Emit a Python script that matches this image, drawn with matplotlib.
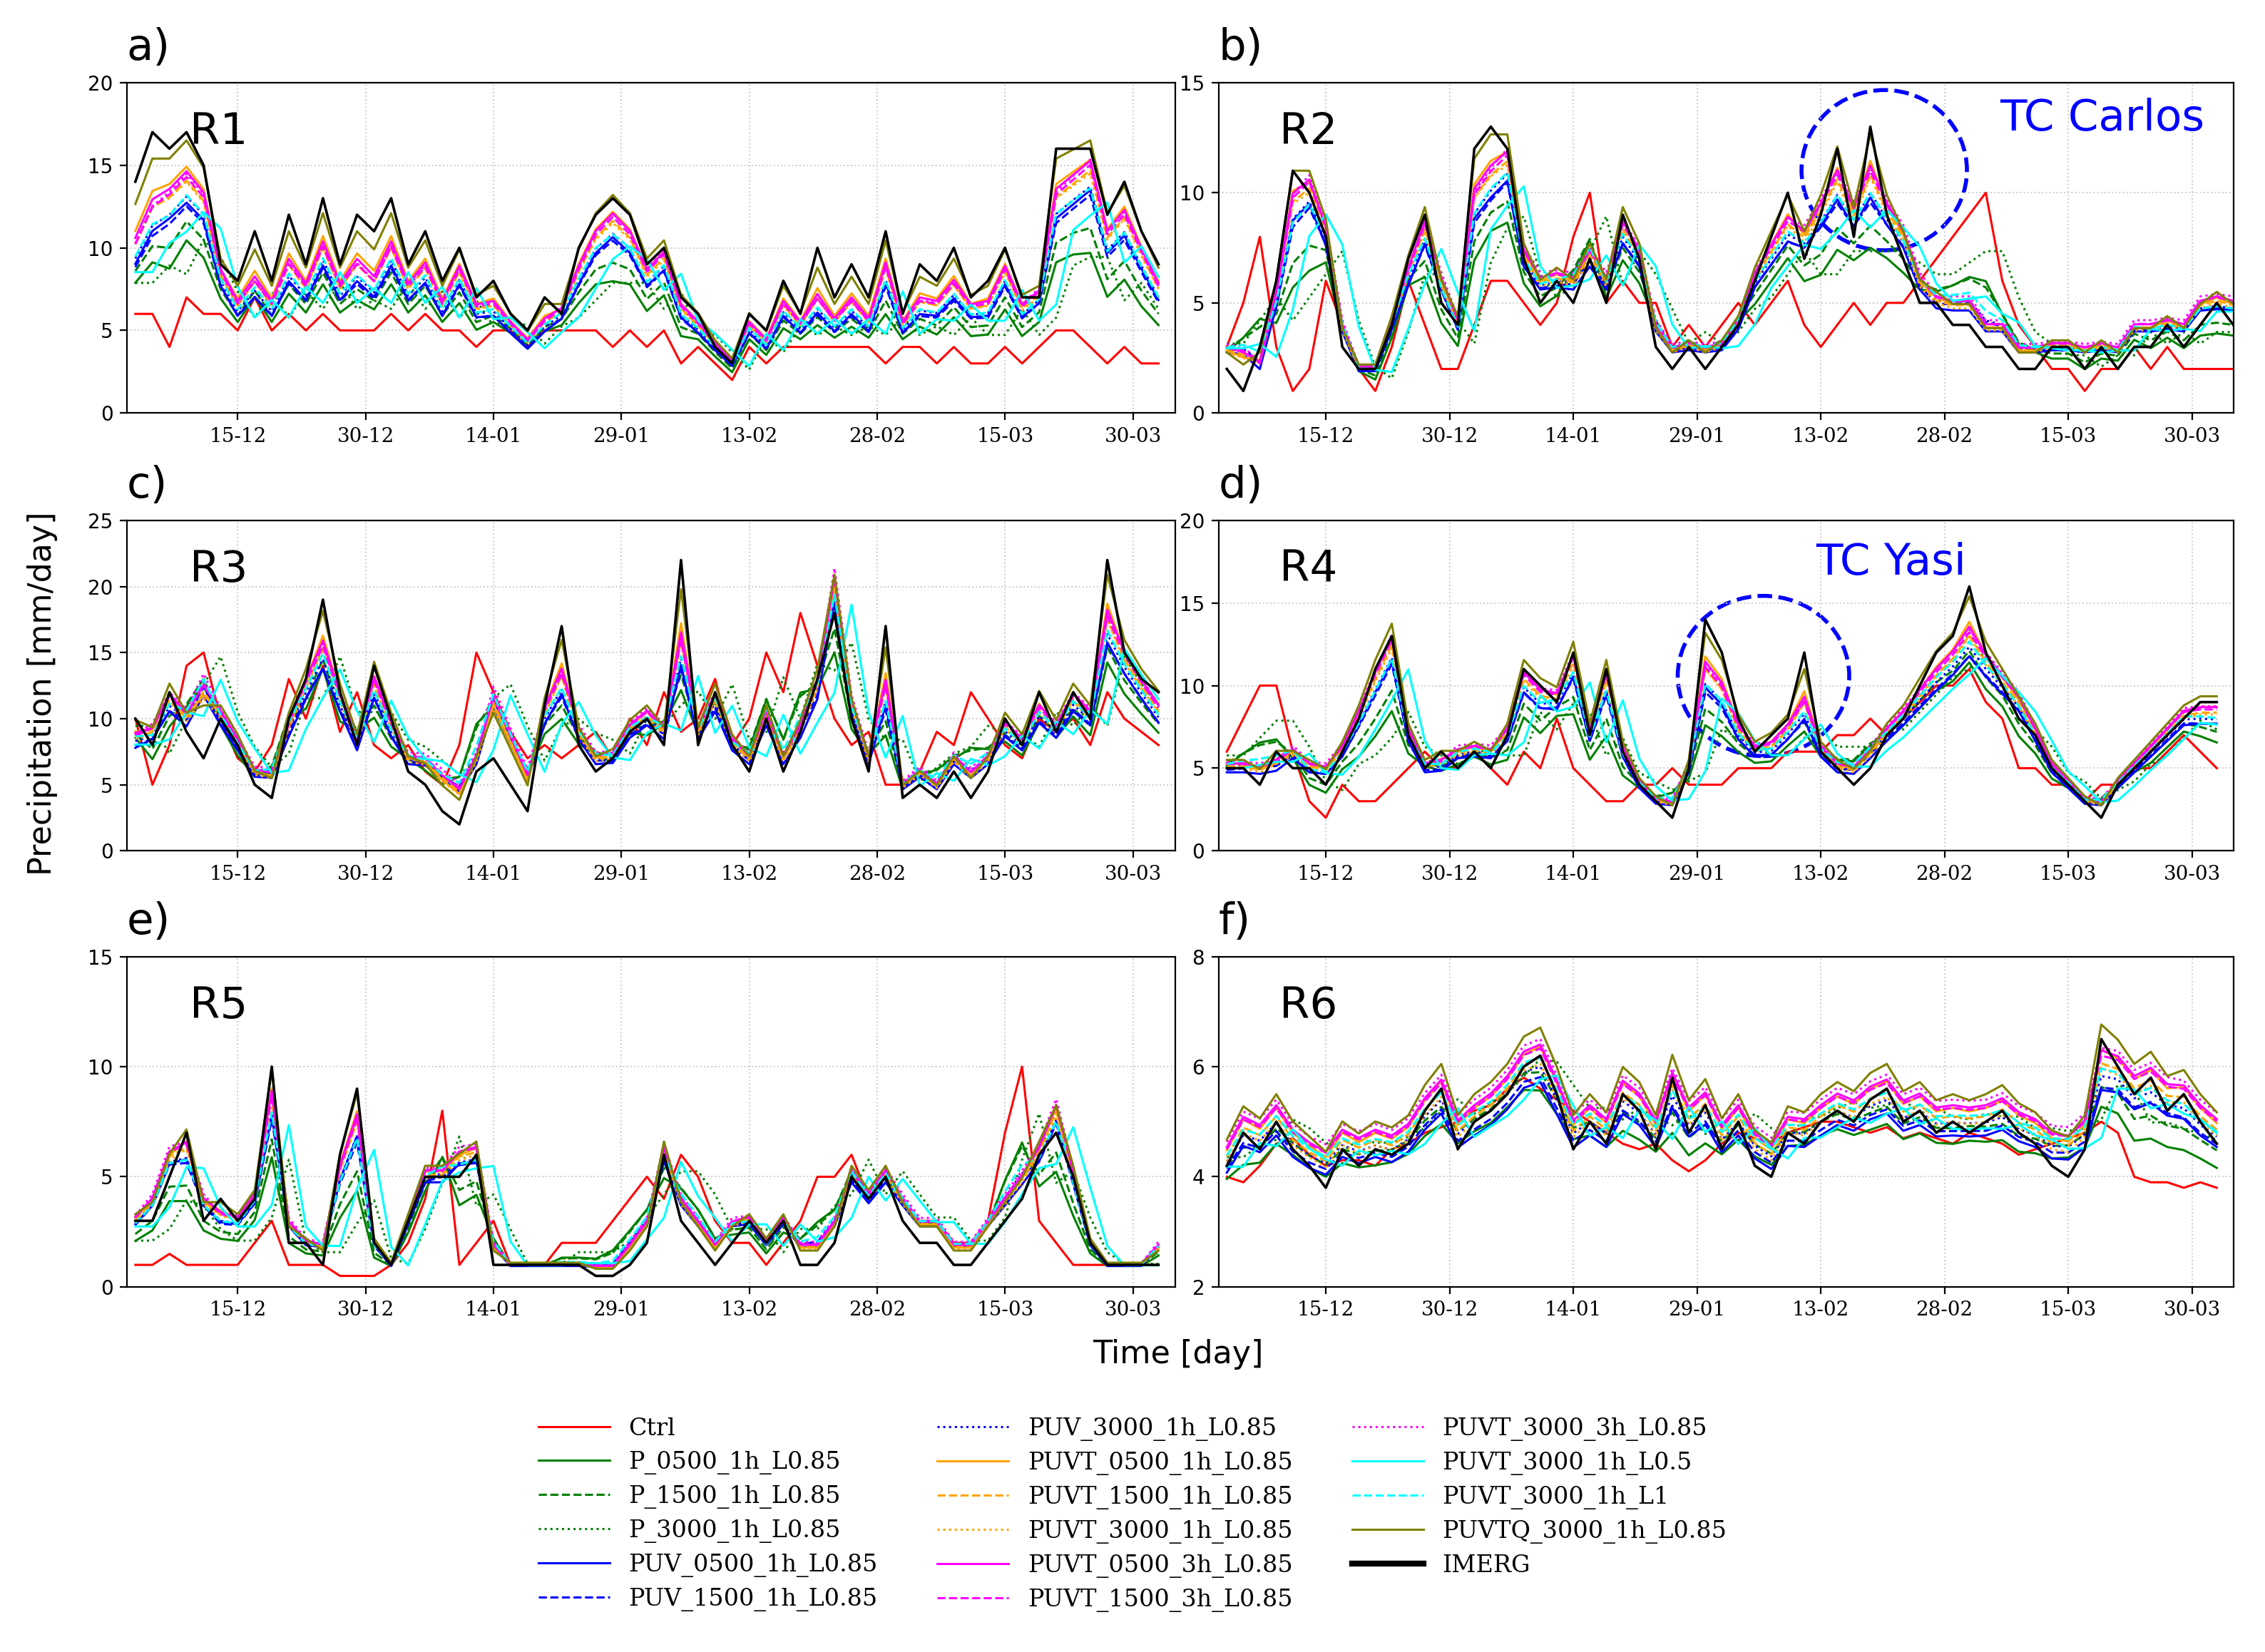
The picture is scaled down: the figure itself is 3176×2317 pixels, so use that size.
import numpy as np
import matplotlib
matplotlib.use("Agg")
import matplotlib.pyplot as plt
from matplotlib.patches import Ellipse
import datetime as dt

regions = ["R1", "R2", "R3", "R4", "R5", "R6"]
letters = ["a)", "b)", "c)", "d)", "e)", "f)"]
ylims = [(0, 20), (0, 15), (0, 25), (0, 20), (0, 15), (2, 8)]
yticks = [[0, 5, 10, 15, 20], [0, 5, 10, 15], [0, 5, 10, 15, 20, 25], [0, 5, 10, 15, 20], [0, 5, 10, 15], [2, 4, 6, 8]]
tick_labels = ["15-12", "30-12", "14-01", "29-01", "13-02", "28-02", "15-03", "30-03"]

imerg = {
 "R1": [14,17,16,17,15,9,8,11,8,12,9,13,9,12,11,13,9,11,8,10,7,8,6,5,7,6,10,12,13,12,9,10,7,6,4,3,6,5,8,6,10,7,9,7,11,6,9,8,10,7,8,10,7,7,16,16,16,12,14,11,9],
 "R2": [2,1,3,6,11,10,8,3,2,2,4,7,9,5,4,12,13,12,7,5,6,5,7,5,9,7,3,2, 3,2,3,4,6,8,10,7,9,12,8,13,9,7,5,5,4,4,3,3,2,2,3,3,2,3,2,3,3,4,3,4,5,4],
 "R3": [10,8,12,9,7,10,8,5,4,10,13,19,12,8,14,10,6,5,3,2,6,7,5,3,11,17,8,6,7,9,10,8,22,8,12,8,6,10,6,9,13,18,10,6,17,4,5,4,6,4,6,10,8,12,9,12,10,22,15,13,12],
 "R4": [5,5,4,6,5,5,4,6,8,11,13,7,5,6, 5,6,5,7,11,10,9,12,7,11,6,4,3,2,5,14, 12,8,6,7,8,12,6,5,4,5,7,8,10,12, 13,16,12,10,8,7,5,4,3,2,4,5,6,7,8, 9,9],
 "R5": [3,3,5,7,3,4,3,4,10,2,2,1,6,9, 2,1,3,5,5,5,6,1,1,1,1,1,1,0.5,0.5,1, 2,6,3,2,1,2,3,2,3,1,1,2,5,4, 5,3,2,2,1,1,2,3,4,6,7,5,2,1,1, 1,1],
 "R6": [4.2,4.8,4.5,5.0,4.5,4.2,3.8,4.5,4.2,4.5,4.4,4.6,5.2,5.6, 4.5,5.0,5.2,5.5,6.0,6.2,5.5,4.5,5.0,4.6,5.5,5.2,4.5,5.8,4.8,5.3, 4.5,5.0,4.2,4.0,4.8,4.6,5.0,5.2,5.0,5.4,5.6,5.0,5.2,4.8, 5.0,4.8,5.0,5.2,4.8,4.6,4.2,4.0,4.5,6.5,6.0,5.5,5.8,5.2,5.5, 5.0,4.6],
}
ctrl = {
 "R1": [6,6,4,7,6,6,5,7,5,6,5,6,5,5,5,6,5,6,5,5,4,5,5,4,5,5,5,5,4,5,4,5,3,4,3,2,4,3,4,4,4,4,4,4,3,4,4,3,4,3,3,4,3,4,5,5,4,3,4,3,3],
 "R2": [3,5,8,3,1,2,6,4,2,1,3,6,4,2,2,4,6,6,5,4,5,8,10,5,6,5,5,3, 4,3,4,5,4,5,6,4,3,4,5,4,5,5,6,7,8,9,10,6,4,3,2,2,1,2,2,3,2,3,2,2,2,2],
 "R3": [10,5,8,14,15,10,7,6,8,13,10,14,9,12,8,7,8,6,5,8,15,12,9,7,8,7,8,9,7,10,8,12,9,10,13,8,10,15,12,18,14,10,8,9,5,5,6,9,8,12,10,8,7,10,9,10,8,12,10,9,8],
 "R4": [6,8,10,10,6,3,2,4,3,3,4,5,6,5, 5,6,5,4,6,5,8,5,4,3,3,4,4,5,4,4, 4,5,5,5,6,6,6,7,7,8,7,8,9,10, 10,11,9,8,5,5,4,4,3,4,4,5,5,6,7, 6,5],
 "R5": [1,1,1.5,1,1,1,1,2,3,1,1,1,0.5,0.5, 0.5,1,2,4,8,1,2,3,1,1,1,2,2,2,3,4, 5,4,6,5,3,2,2,1,2,3,5,5,6,4, 5,4,3,3,2,2,3,7,10,3,2,1,1,1,1, 1,1],
 "R6": [4.0,3.9,4.2,4.6,4.7,4.4,4.2,4.3,4.3,4.2,4.5,4.6,4.8,4.9, 5.0,5.2,5.3,5.6,5.8,5.6,5.4,5.2,5.0,4.8,4.6,4.5,4.6,4.3,4.1,4.3, 4.6,4.8,4.7,4.6,4.8,4.9,5.0,5.0,4.9,4.8,4.9,4.7,4.8,4.7, 4.6,4.8,4.7,4.6,4.4,4.5,4.6,4.7,4.8,5.0,4.8,4.0,3.9,3.9,3.8, 3.9,3.8],
}
ens = {
 "R1": [9,11,12,13,12,8,6,7,6,8,7,9,7,8,7,9,7,8,6,8,6,6,5,4,5,6,8,10,11,10,8,9,6,5,4,3,5,4,6,5,6,5,6,5,8,5,6,6,7,6,6,8,6,7,12,13,14,10,11,9,7],
 "R2": [3,3,2,5,9,10,8,4,2,2,4,6,8,6,4,9,10,11,7,6,6,6,7,6,8,7,4,3, 3,3,3,4,6,7,8,8,9,10,9,10,9,8,6,5,5,5,4,4,3,3,3,3,3,3,3,4,4,4,4,5,5,5],
 "R3": [8,9,11,10,13,10,8,6,6,9,12,14,11,8,12,9,7,7,6,5,7,12,9,6,10,12,9,7,7,9,10,9,14,9,11,8,7,10,7,9,12,20,11,7,11,5,6,5,7,6,7,9,8,10,9,11,10,16,14,12,10],
 "R4": [5,5,5,5,6,5,5,6,8,10,12,7,5,5, 6,6,6,7,10,9,9,11,7,10,6,4,3,3,5,10, 9,7,6,6,7,8,6,5,5,6,7,8,9,10, 11,12,11,10,9,7,5,4,3,3,4,5,6,7,8, 8,8],
 "R5": [3,4,6,6,4,3,3,4,8,3,2,2,5,7, 2,1,3,5,5,6,6,2,1,1,1,1,1,1,1,2, 3,6,4,3,2,3,3,2,3,2,2,3,5,4, 5,4,3,3,2,2,3,4,5,6,8,5,2,1,1, 1,2],
 "R6": [4.3,4.8,4.7,5.0,4.6,4.4,4.3,4.6,4.5,4.6,4.5,4.7,5.1,5.4, 4.8,5.0,5.2,5.5,5.9,6.0,5.4,4.8,5.0,4.8,5.4,5.2,4.8,5.5,5.0,5.2, 4.7,5.0,4.6,4.4,4.8,4.8,5.0,5.2,5.1,5.3,5.4,5.1,5.2,5.0, 5.0,5.0,5.0,5.1,4.9,4.8,4.6,4.6,4.8,5.8,5.8,5.5,5.6,5.4,5.3, 5.0,4.8],
}

# experiments: name, color, linestyle, weights (ens, imerg, ctrl), scale, lag
experiments = [
 ("P_0500_1h_L0.85", "green", "-", (0.5, 0.1, 0.4), 0.95, 0),
 ("P_1500_1h_L0.85", "green", "--", (0.6, 0.1, 0.3), 1.0, 0),
 ("P_3000_1h_L0.85", "green", ":", (0.5, 0.0, 0.5), 1.05, 1),
 ("PUV_0500_1h_L0.85", "blue", "-", (0.9, 0.1, 0.0), 0.95, 0),
 ("PUV_1500_1h_L0.85", "blue", "--", (0.9, 0.05, 0.05), 0.97, 0),
 ("PUV_3000_1h_L0.85", "blue", ":", (0.85, 0.1, 0.05), 1.0, 0),
 ("PUVT_0500_1h_L0.85", "orange", "-", (0.7, 0.3, 0.0), 1.05, 0),
 ("PUVT_1500_1h_L0.85", "orange", "--", (0.8, 0.2, 0.0), 1.02, 0),
 ("PUVT_3000_1h_L0.85", "orange", ":", (0.75, 0.25, 0.0), 1.0, 0),
 ("PUVT_0500_3h_L0.85", "magenta", "-", (0.8, 0.2, 0.0), 1.06, 0),
 ("PUVT_1500_3h_L0.85", "magenta", "--", (0.85, 0.15, 0.0), 1.05, 0),
 ("PUVT_3000_3h_L0.85", "magenta", ":", (0.9, 0.1, 0.0), 1.08, 0),
 ("PUVT_3000_1h_L0.5", "cyan", "-", (0.9, 0.0, 0.1), 0.98, 1),
 ("PUVT_3000_1h_L1", "cyan", "--", (0.8, 0.1, 0.1), 1.03, 0),
 ("PUVTQ_3000_1h_L0.85", "olive", "-", (0.5, 0.5, 0.0), 1.1, 0),
]

start = dt.date(2010, 12, 3)
def dates(n):
    return [start + dt.timedelta(days=2 * i) for i in range(n)]

fig = plt.figure(figsize=(15.88, 11.585), dpi=200)
pos = [(0.056, 0.750), (0.538, 0.750), (0.056, 0.485), (0.538, 0.485), (0.056, 0.221), (0.538, 0.221)]
widths = [0.463, 0.448]
handles = []
for k, r in enumerate(regions):
    x0, y0 = pos[k]
    ax = fig.add_axes([x0, y0, widths[k % 2], 0.200])
    im = np.array(imerg[r], float); ct = np.array(ctrl[r], float); en = np.array(ens[r], float)
    n = min(len(im), len(ct), len(en))
    im, ct, en = im[:n], ct[:n], en[:n]
    x = dates(n)
    h = ax.plot(x, ct, color="red", lw=1.1, label="Ctrl")
    if k == 0: handles += h
    for name, c, ls, w, s, lag in experiments:
        v = (w[0] * en + w[1] * im + w[2] * ct) * s
        if lag:
            v = np.concatenate([v[:1], v[:-1]])
        h = ax.plot(x, v, color=c, ls=ls, lw=1.1, label=name)
        if k == 0: handles += h
    ax.plot(x, im, color="black", lw=1.3)
    if k == 0:
        handles += [plt.Line2D([], [], color="black", lw=3, label="IMERG")]
    ax.set_xlim(dt.date(2010, 12, 2), dt.date(2011, 4, 4))
    ax.set_ylim(*ylims[k]); ax.set_yticks(yticks[k])
    tk = [dt.datetime.strptime(t + "-" + ("2010" if t.endswith("-12") else "2011"), "%d-%m-%Y") for t in tick_labels]
    ax.set_xticks(tk); ax.set_xticklabels(tick_labels, family="DejaVu Serif")
    ax.tick_params(labelsize=10)
    ax.grid(True, color="#cccccc", lw=0.7, ls=":")
    ax.text(0.06, 0.85, r, transform=ax.transAxes, fontsize=22, va="center")
    ax.text(0.0, 1.04, letters[k], transform=ax.transAxes, fontsize=22, va="bottom", ha="left")
    if k == 1:
        ax.add_patch(Ellipse((0.656, 0.735), 0.163, 0.485, transform=ax.transAxes, fill=False, ec="blue", ls="--", lw=2))
        ax.text(0.871, 0.89, "TC Carlos", transform=ax.transAxes, color="blue", fontsize=22, ha="center", va="center")
    if k == 3:
        ax.add_patch(Ellipse((0.537, 0.529), 0.169, 0.485, transform=ax.transAxes, fill=False, ec="blue", ls="--", lw=2))
        ax.text(0.663, 0.872, "TC Yasi", transform=ax.transAxes, color="blue", fontsize=22, ha="center", va="center")

fig.text(0.012, 0.58, "Precipitation [mm/day]", rotation=90, fontsize=16, va="center")
fig.text(0.52, 0.18, "Time [day]", fontsize=16, ha="center", va="center")
fig.legend(handles=handles, ncol=3, loc="upper center", bbox_to_anchor=(0.5, 0.155), frameon=False,
           prop={"family": "DejaVu Serif", "size": 12}, handlelength=3, columnspacing=2.5, labelspacing=0.45)
fig.savefig("out.png", dpi=200)
